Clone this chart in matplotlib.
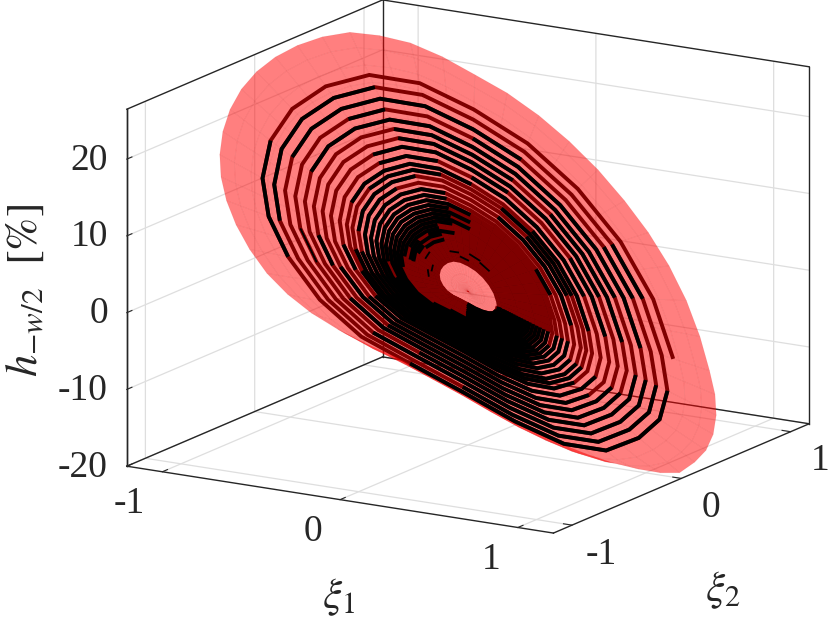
import matplotlib
matplotlib.use("Agg")
import matplotlib.pyplot as plt
import numpy as np

plt.rcParams['font.family'] = ['Liberation Serif', 'DejaVu Serif']
plt.rcParams['mathtext.fontset'] = 'stix'
plt.rcParams['axes.unicode_minus'] = False

# height of the surface at its rim, every 7.5 deg round the disc
rim_h = [-19.3, -18.9, -18.4, -17.4, -16.0, -14.4, -12.4, -9.0, -5.3, -1.7, 1.8, 5.2,
         8.6, 11.8, 14.8, 17.5, 19.8, 22.2, 24.2, 25.5, 26.4, 26.4, 26.0, 25.3,
         24.3, 23.0, 21.4, 19.6, 17.7, 15.9, 13.9, 11.8, 9.6, 7.4, 5.5, 3.8,
         2.3, 0.9, -0.5, -2.4, -4.6, -7.1, -9.6, -11.8, -13.8, -15.6, -17.1, -18.4]
# the lower side sags below the straight line from centre to rim
sag_h = [0, 0, 0, 0, 0, 0, 0, 0, 0, 0, 0, 0,
         0, 0, 0, 0, 0, 0, 0, 0, 0, 0, 0, 0,
         0, 0, 0, 0, 0, 0, 0, 0, 0, -0.3, -0.8, -1.4,
         -1.9, -2.2, -2.4, -2.5, -2.5, -2.5, -2.5, -2.6, -2.7, -2.5, -2.0, -1.1]
theta_step = 7.5
rim_r = 1.19
mesh_r = [0.0, 0.08, 0.16, 0.24, 0.32, 0.40, 0.48, 0.56, 0.64, 0.72, 0.80, 0.88, 0.96, 1.04, 1.12, 1.19]
sag_part = [0, .01, .03, .07, .12, .2, .3, .42, .55, .7, .83, .93, 1.0, .85, .45, 0]

# spiral radius, one row per turn, 24 points a turn starting at 45 deg
spiral_r = [
    [1.011, 1.009, 1.006, 1.004, 1.001, .999, .997, .994, .992, .989, .987, .985, .982, .980, .977, .975, .973, .970, .968, .966, .963, .961, .958, .956],
    [.954, .952, .950, .947, .945, .943, .941, .938, .936, .934, .932, .929, .927, .925, .923, .920, .918, .916, .914, .911, .909, .907, .905, .902],
    [.900, .898, .896, .894, .892, .890, .887, .885, .883, .881, .879, .877, .875, .873, .871, .869, .866, .864, .862, .860, .858, .856, .854, .852],
    [.850, .848, .846, .844, .842, .840, .838, .836, .834, .832, .830, .828, .826, .824, .822, .820, .818, .816, .814, .812, .810, .808, .806, .804],
    [.802, .800, .798, .797, .795, .793, .791, .789, .788, .786, .784, .782, .780, .779, .777, .775, .773, .771, .770, .768, .766, .764, .762, .761],
    [.759, .757, .755, .754, .752, .750, .748, .746, .745, .743, .741, .739, .737, .736, .734, .732, .730, .728, .727, .725, .723, .721, .719, .718],
    [.716, .714, .713, .711, .709, .708, .706, .704, .702, .701, .699, .697, .696, .694, .692, .691, .689, .687, .685, .684, .682, .680, .679, .677],
    [.676, .674, .673, .671, .669, .667, .666, .664, .662, .660, .659, .657, .655, .653, .652, .650, .648, .646, .645, .643, .641, .639, .638, .636],
    [.634, .632, .631, .629, .627, .626, .624, .622, .620, .619, .617, .615, .614, .612, .610, .609, .607, .605, .603, .602, .600, .598, .597, .595],
    [.594, .593, .592, .590, .589, .588, .587, .586, .584, .583, .582, .581, .580, .578, .577, .576, .575, .574, .572, .571, .570, .569, .568, .567],
    [.566, .565, .564, .563, .562, .560, .559, .558, .557, .556, .555, .554, .553, .552, .551, .550, .549, .548, .546, .545, .544, .543, .542, .541],
    [.539, .538, .536, .535, .534, .532, .531, .530, .529, .527, .526, .525, .523, .522, .521, .520, .518, .517, .516, .514, .513, .512, .511, .509],
    [.508, .507, .505, .504, .503, .502, .501, .499, .498, .497, .496, .494, .493, .492, .491, .489, .488, .487, .486, .484, .483, .482, .481, .479],
    [.478, .477, .476, .474, .473, .472, .471, .470, .469, .467, .466, .465, .464, .463, .462, .460, .459, .458, .457, .456, .455, .453, .452, .451],
    [.450, .449, .448, .447, .446, .445, .444, .443, .442, .441, .440, .439, .437, .436, .435, .434, .433, .432, .431, .430, .429, .428, .427, .426],
    [.425, .424, .423, .422, .421, .420, .419, .419, .418, .417, .416, .415, .414, .413, .412, .411, .410, .409, .408, .408, .407, .406, .405, .404],
    [.403, .402, .401, .401, .400, .399, .398, .397, .396, .396, .395, .394, .393, .392, .391, .391, .390, .389, .388, .387, .386, .386, .385, .384],
    [.383, .382, .381, .381, .380, .379, .378, .377, .376, .376, .375, .374, .373, .372, .371, .371, .370, .369, .368, .367, .366, .366, .365, .364],
    [.363, .362, .362, .361, .360, .359, .359, .358, .357, .356, .356, .355, .354, .353, .353, .352, .351, .350, .350, .349, .348, .347, .347, .346],
    [.345, .344, .344, .343, .342, .342, .341, .340, .339, .339, .338, .337, .337, .336, .335, .335, .334, .333, .332, .332, .331, .330, .330, .329],
    [.328, .327, .327, .326, .325, .325, .324, .323, .323, .322, .321, .321, .320, .319, .319, .318, .317, .317, .316, .315, .315, .314, .313, .313],
    [.312, .311, .311, .310, .309, .309, .308, .307, .307, .306, .305, .305, .304, .303, .303, .302, .301, .301, .300, .299, .299, .298, .297, .297],
    [.296, .295, .295, .294, .294, .293, .293, .292, .291, .291, .290, .290, .289, .288, .288, .287, .287, .286, .286, .285, .284, .284, .283, .283],
    [.282, .281, .281, .280, .280, .279, .279, .278, .277, .277, .276, .276, .275, .274, .274, .273, .273, .272, .272, .271, .270, .270, .269, .269],
    [.268, .267, .267, .266, .266, .265, .265, .264, .264, .263, .263, .262, .262, .261, .260, .260, .259, .259, .258, .258, .257, .257, .256, .256],
    [.255, .254, .254, .253, .253, .252, .252, .251, .251, .250, .250, .249, .249, .248, .247, .247, .246, .246, .245, .245, .244, .244, .243, .243],
    [.242, .242, .241, .241, .240, .240, .239, .239, .238, .238, .237, .237, .236, .236, .235, .235, .234, .234, .233, .233, .232, .232, .231, .231],
    [.230, .230, .229, .229, .228, .228, .227, .227, .226, .226, .225, .225, .224, .224, .224, .223, .223, .222, .222, .221, .221, .220, .220, .219],
    [.219, .218, .218, .217, .217, .217, .216, .216, .215, .215, .214, .214, .213, .213, .213, .212, .212, .211, .211, .210, .210, .209, .209, .208],
    [.208, .208, .207, .207, .206, .206, .205, .205, .205, .204, .204, .203, .203, .203, .202, .202, .201, .201, .200, .200, .200, .199, .199, .198],
    [.198, .198, .197, .197, .196, .196, .195, .195, .195, .194, .194, .193, .193, .193, .192, .192, .191, .191, .190, .190, .190, .189, .189, .188],
    [.188, .188, .187, .187, .186, .186, .186, .185, .185, .184, .184, .184, .183, .183, .183, .182, .182, .181, .181, .181, .180, .180, .179, .179],
    [.179, .179, .178, .178, .177, .177, .177, .176, .176, .175, .175, .175, .174, .174, .174, .173, .173, .172, .172, .172, .171, .171, .170, .170],
    [.170, .170, .169, .169, .169, .168, .168, .168, .167, .167, .166, .166, .166, .165, .165, .165, .164, .164, .164, .163, .163, .163, .162, .162],
    [.162, .162, .161, .161, .161, .160, .160, .160, .160, .159, .159, .159, .158, .158, .158, .157, .157, .157, .157, .156, .156, .156, .155, .155],
    [.155, .155, .154, .154, .154, .153, .153, .153, .153, .152, .152, .152, .151, .151, .151, .150, .150, .150, .150, .149, .149, .149, .148, .148],
    [.148, .148, .147, .147, .147, .147, .146, .146, .146, .145, .145, .145, .145, .144, .144, .144, .144, .143, .143, .143, .143, .142, .142, .142],
]

# parts of each turn lying above the surface (degrees counted from 45 to 405)
above = [
    [(45, 55), (195, 240), (285, 400)],
    [(60, 80), (150, 235), (290, 395)],
    [(50, 75), (105, 195), (270, 395)],
    [(45, 120), (150, 175), (225, 240), (285, 390)],
    [(55, 195), (255, 385)],
    [(45, 90), (95, 150), (215, 245), (270, 385)],
    [(60, 150), (235, 370)],
    [(45, 80), (105, 165), (255, 380)],
    [(55, 120), (130, 170), (220, 240), (255, 370)],
    [(45, 100), (120, 200), (235, 375)],
    [(60, 110), (130, 180), (225, 380)],
    [(50, 90), (150, 215), (225, 385)],
    [(45, 105), (160, 400)],
    [(125, 395)],
    [(60, 80), (130, 400)],
    [(120, 380)],
    [(125, 230), (240, 405)],
    [(110, 400)],
    [(135, 395)],
    [(120, 405)],
    [(130, 235), (260, 400)],
    [(140, 220), (285, 395)],
    [(150, 205), (290, 400)],
    [(135, 165), (180, 215), (295, 395)],
    [(150, 210), (300, 405)],
    [(170, 200), (300, 390)],
    [(150, 180), (300, 400)],
    [(300, 395)],
    [(180, 195), (300, 405)],
    [(105, 120), (305, 390)],
    [(90, 105), (210, 225), (300, 400)],
    [(135, 150), (310, 395)],
    [(195, 210), (315, 400)],
    [(120, 135), (300, 385)],
    [(320, 395)],
    [(330, 390)],
    [(300, 375)],
]

x_ticks = [-1, 0, 1]
y_ticks = [-1, 0, 1]
z_ticks = [-20, -10, 0, 10, 20]
x_lim = (-1.2, 1.2)
y_lim = (-1.17, 1.17)
z_lim = (-20, 26.5)


def spiral_xyz(r_row):
    idx = [(6 + 2 * j) % 48 for j in range(len(r_row))]
    t = np.radians([theta_step * i for i in idx])
    r = np.array(r_row)
    h = np.array([rim_h[i] for i in idx]) * r / rim_r
    h = h + np.array([sag_h[i] for i in idx]) * np.interp(r, mesh_r, sag_part)
    return r * np.cos(t), r * np.sin(t), h


fig = plt.figure(figsize=(8.3, 6.21), dpi=100)
ax = fig.add_axes([72.6 / 830, -40.9 / 621, 770 / 830, 770 / 621], projection='3d', computed_zorder=False)
ax.set_proj_type('ortho')
ax.view_init(elev=15, azim=-58.8)
ax.set_box_aspect((498, 493, 369))
ax.set_xlim(*x_lim, view_margin=0)
ax.set_ylim(*y_lim, view_margin=0)
ax.set_zlim(*z_lim, view_margin=0)
ax.patch.set_alpha(0)

for axis in (ax.xaxis, ax.yaxis, ax.zaxis):
    axis.set_pane_color((1, 1, 1, 0))
    axis.pane.set_edgecolor('none')
    axis._axinfo['grid'].update(color='#dedede', linewidth=0.9)
    axis._axinfo['tick'].update(inward_factor=0.0, outward_factor=0.25)
    axis.line.set_color('#262626')
    axis.line.set_linewidth(1.0)

ax.set_xticks(x_ticks)
ax.set_yticks(y_ticks)
ax.set_zticks(z_ticks)
ax.set_xticklabels([str(v) for v in x_ticks], ha='right', va='center')
ax.set_yticklabels([str(v) for v in y_ticks], va='center')
ax.set_zticklabels([str(v) for v in z_ticks], ha='right', va='center')
ax.tick_params(axis='both', labelsize=27, colors='#262626', width=0.8)
ax.tick_params(axis='x', pad=12)
ax.tick_params(axis='y', pad=12)
ax.tick_params(axis='z', pad=0)
ax.zaxis.set_ticks_position('lower')

# back edges of the box
x0, x1 = x_lim
y0, y1 = y_lim
z0, z1 = z_lim
box_edges = [((x0, x0), (y0, y1), (z1, z1)), ((x0, x1), (y1, y1), (z1, z1)),
             ((x1, x1), (y1, y1), (z0, z1)), ((x0, x0), (y1, y1), (z0, z1)),
             ((x0, x0), (y0, y1), (z0, z0)), ((x0, x1), (y1, y1), (z0, z0)),
             ((x0, x0), (y0, y0), (z0, z1))]
for ex, ey, ez in box_edges:
    ax.plot(ex, ey, ez, color='#262626', lw=1.0, zorder=1)

# spiral under the surface, whole length
sx, sy, sz = [], [], []
for row in spiral_r:
    px, py, pz = spiral_xyz(row)
    sx.extend(px)
    sy.extend(py)
    sz.extend(pz)
ax.plot(sx, sy, sz, color='black', lw=2.8, solid_joinstyle='miter', solid_capstyle='butt', zorder=2)

# surface
t_mesh = np.radians(theta_step * np.arange(len(rim_h) + 1))
h_mesh = np.array(rim_h + rim_h[:1])
s_mesh = np.array(sag_h + sag_h[:1])
R, T = np.meshgrid(np.array(mesh_r), t_mesh)
H = np.outer(h_mesh, np.array(mesh_r)) / rim_r + np.outer(s_mesh, np.array(sag_part))
ax.plot_surface(R * np.cos(T), R * np.sin(T), H, rstride=1, cstride=1, color=(1, 0, 0, 0.5),
                edgecolor=(0.75, 0, 0, 0.08), linewidth=0.5, shade=False, zorder=3)

# parts of the spiral above the surface, short slivers stay thin
for row, spans in zip(spiral_r, above):
    px, py, pz = spiral_xyz(row)
    u = 45 + 15 * np.arange(len(row))
    for a, b in spans:
        keep = (u >= a) & (u <= b)
        if keep.sum() > 1:
            ax.plot(px[keep], py[keep], pz[keep], color='black', lw=1.3 if b - a <= 15 else 2.8,
                    solid_joinstyle='miter', solid_capstyle='butt', zorder=4)

fig.text(339 / 830, 1 - 597 / 621, r'$\xi_1$', fontsize=31, ha='center', va='center', color='#262626')
fig.text(723 / 830, 1 - 590 / 621, r'$\xi_2$', fontsize=31, ha='center', va='center', color='#262626')
fig.text(25 / 830, 1 - 291 / 621, r'$h_{-w/2}\ \ [\%]$', fontsize=32, rotation=90, ha='center', va='center', color='#262626')

fig.savefig('out.png', dpi=100)
